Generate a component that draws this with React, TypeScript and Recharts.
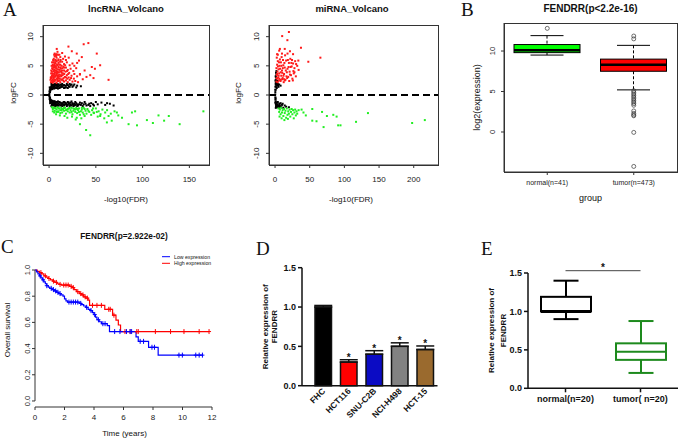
import React from "react";
import {
  ScatterChart,
  Scatter,
  XAxis,
  YAxis,
  ReferenceLine,
  ComposedChart,
  Bar,
  Line,
  BarChart,
  Cell,
  ErrorBar,
  LabelList,
} from "recharts";

const FONT = '"Liberation Sans", Arial, sans-serif';
const SERIF = '"Liberation Serif", "Times New Roman", serif';

// ---- A: volcano plots, [ -log10(FDR), logFC ] ----
const lncRed: [number, number][] = [
  [2, 2.2], [3, 2.5], [4, 2.1], [5, 2.8], [6, 2.3], [7, 2.6], [8, 2.1], [9, 2.9], [10, 2.4], [12, 2.2], [14, 2.7], [16, 2.3], [18, 2.5], [20, 2.2], [22, 2.6], [25, 2.3], [28, 2.4], [31, 2.2],
  [2.5, 3.1], [3.5, 3.4], [4.5, 3.0], [5.5, 3.6], [6.5, 3.2], [7.5, 3.8], [8.5, 3.3], [9.5, 3.1], [11, 3.5], [13, 3.2], [15, 3.7], [17, 3.1], [19, 3.4], [21, 3.0], [24, 3.3], [27, 3.6], [30, 3.2], [33, 3.5],
  [3, 4.0], [4, 4.4], [5, 4.1], [6, 4.7], [7, 4.2], [8, 4.5], [9, 4.0], [10, 4.8], [11, 4.3], [13, 4.1], [14, 4.6], [16, 4.2], [18, 4.7], [20, 4.3], [23, 4.5], [26, 4.1], [29, 4.6],
  [4, 5.2], [5, 5.6], [6, 5.0], [7, 5.4], [8, 5.8], [9, 5.1], [10, 5.5], [12, 5.2], [14, 5.7], [16, 5.3], [19, 5.6], [22, 5.1], [25, 5.4],
  [5, 6.2], [6, 6.6], [7, 6.0], [8, 6.4], [10, 6.1], [12, 6.5], [15, 6.2], [18, 6.0], [21, 6.4],
  [6, 7.1], [8, 7.0], [9, 7.4], [11, 6.9], [14, 7.2],
  [1.5, 2.6], [2.2, 3.7], [2.8, 2.9], [3.3, 4.6], [4.2, 3.3], [5.2, 2.4], [6.2, 3.9], [7.2, 4.9], [8.2, 3.6], [9.2, 2.7], [10.5, 3.9], [11.5, 2.8], [12.5, 4.5], [13.5, 3.8], [15.5, 2.9], [17.5, 4.0], [19.5, 2.8], [21.5, 3.8], [23.5, 2.9], [26.5, 2.8], [12.3, 6.0], [17, 6.6], [3.8, 5.0], [4.8, 4.7], [5.8, 5.3], [6.8, 5.9], [9.8, 5.9], [11.8, 5.7],
  [1.8, 3.0], [2.3, 4.2], [2.7, 5.0], [3.2, 5.6], [3.6, 2.3], [4.1, 3.7], [4.6, 5.9], [5.1, 3.3], [5.6, 4.3], [6.1, 2.6], [6.6, 5.6], [7.1, 3.4], [7.6, 4.6], [8.1, 2.8], [8.6, 5.2], [9.1, 3.8], [9.6, 4.4], [10.2, 2.9], [10.8, 5.2], [11.3, 3.2], [11.8, 4.7], [12.8, 3.4], [13.2, 5.0], [14.5, 3.4], [15.2, 4.9], [16.2, 3.6], [17.2, 5.1], [18.3, 3.0], [19.2, 4.1], [20.5, 3.6],
  [2.0, 2.9], [3.0, 3.3], [4.0, 2.6], [5.0, 5.0], [6.0, 3.1], [7.0, 4.9], [8.0, 4.1], [9.0, 2.4], [10.0, 3.4], [11.0, 2.5], [12.0, 4.0], [13.0, 2.6], [14.0, 4.2], [15.0, 2.5], [16.0, 4.7], [6.5, 6.9], [7.5, 6.7], [9.5, 6.9], [4.5, 6.0], [5.5, 6.9],
  [42, 8.9], [37, 8.7], [20.7, 8.3], [8.2, 7.9], [51, 7.1], [54.6, 5.1], [45.7, 4.8], [49, 4.5], [47.5, 2.9], [63.6, 2.6], [33, 3.6], [29.6, 7.1], [24.3, 7.5], [35, 6.5], [32, 5.9], [38, 4.2], [40, 3.1], [27, 5.0], [30, 5.5], [36, 2.7], [44, 3.4],
];
const lncBlack: [number, number][] = [
  [0.3, 0.2], [0.5, -0.3], [0.4, 0.6], [0.6, -0.7], [0.8, 0.9], [1.0, -1.0], [0.2, -0.1], [1.2, 1.1], [1.5, -1.2], [0.7, 1.3], [1.1, -1.4],
  [2, 1.3], [3, 1.6], [4, 1.2], [5, 1.8], [6, 1.4], [7, 1.7], [8, 1.3], [9, 1.9], [10, 1.5], [11, 1.2], [12, 1.8], [13, 1.4], [15, 1.6], [17, 1.3], [19, 1.9], [21, 1.5], [23, 1.7], [25, 1.4], [27, 1.8], [30, 1.6], [34, 1.5],
  [2.5, 1.9], [3.5, 1.0], [4.5, 1.5], [5.5, 1.1], [6.5, 1.9], [7.5, 1.2], [8.5, 1.6], [9.5, 1.1], [14, 1.9], [16, 1.2], [18, 1.6], [20, 1.2], [22, 1.9], [26, 1.6], [29, 1.3],
  [1, 0.5], [1.5, 0.8], [2, 1.0], [2.5, 1.5], [3, 1.2], [3.5, 1.7], [4, 1.6], [5, 1.2], [6, 1.7], [7, 1.3], [8, 1.8], [9, 1.4], [10, 1.8], [11, 1.6], [12, 1.3], [13, 1.7], [14, 1.4], [16, 1.7], [18, 1.3], [20, 1.7], [22, 1.4], [24, 1.8],
  [2, -1.3], [3, -1.6], [4, -1.2], [5, -1.8], [6, -1.4], [7, -1.7], [8, -1.3], [9, -1.9], [10, -1.5], [11, -1.2], [12, -1.8], [13, -1.4], [15, -1.6], [17, -1.3], [19, -1.9], [21, -1.5], [23, -1.7], [25, -1.4], [27, -1.8], [30, -1.6], [33, -1.3], [36, -1.9], [39, -1.5], [42, -1.7], [45, -1.4], [48, -1.8], [52, -1.6], [56, -1.3], [60, -1.7], [65, -1.5], [69, -1.8],
  [2.5, -1.9], [3.5, -1.0], [4.5, -1.5], [5.5, -1.1], [6.5, -1.9], [7.5, -1.2], [8.5, -1.6], [9.5, -1.1], [14, -1.9], [16, -1.2], [18, -1.6], [20, -1.2], [22, -1.9], [24, -1.1], [26, -1.6], [28, -1.2], [31, -1.8], [35, -1.4], [38, -1.2], [44, -1.9], [50, -1.2], [62, -1.4],
  [1, -0.5], [1.5, -0.8], [2, -0.9], [2.5, -1.1], [3, -1.0], [3.5, -1.4], [4, -1.7], [4.5, -1.1], [5, -1.3], [5.5, -1.6], [6, -1.1], [7, -1.4], [8, -1.8], [9, -1.3], [10, -1.8], [11, -1.6], [12, -1.3], [13, -1.7], [14, -1.5], [15, -1.3], [16, -1.8], [17, -1.6], [18, -1.4], [19, -1.6], [20, -1.7], [21, -1.3], [22, -1.5], [23, -1.3], [24, -1.8], [25, -1.6], [26, -1.9], [27, -1.5], [28, -1.7], [29, -1.4], [30, -1.9], [32, -1.6], [34, -1.7], [37, -1.6], [40, -1.8], [43, -1.5], [47, -1.6],
];
const lncGreen: [number, number][] = [
  [3, -2.1], [4, -2.4], [5, -2.2], [6, -2.7], [7, -2.3], [8, -2.5], [9, -2.1], [10, -2.8], [11, -2.3], [12, -2.6], [13, -2.2], [14, -3.0], [15, -2.4], [16, -2.7], [17, -2.2], [18, -3.2], [19, -2.5], [20, -2.8], [21, -2.3], [22, -3.0], [23, -2.6], [24, -2.2], [25, -3.3], [26, -2.7], [27, -2.4], [28, -2.9], [29, -2.2], [30, -3.1], [31, -2.6], [32, -2.3], [33, -3.4], [34, -2.8], [35, -2.5], [36, -3.0], [37, -2.2], [38, -3.6], [39, -2.7], [40, -3.2], [41, -2.4], [43, -2.9], [45, -3.4], [46, -2.6], [48, -3.1], [50, -2.3], [52, -3.7], [53, -2.8], [55, -3.3], [57, -2.5], [59, -4.0], [60, -3.0], [62, -2.6], [66, -3.2], [70, -2.8], [74, -3.5],
  [5.5, -3.0], [7.5, -3.3], [9.5, -2.9], [11.5, -3.5], [13.5, -2.6], [16.5, -3.6], [19.5, -3.9], [24.5, -3.7], [28.5, -4.2], [34.5, -4.0],
  [4, -2.8], [6, -2.2], [8, -2.9], [10, -2.3], [12, -3.1], [14, -2.4], [16, -2.2], [18, -2.6], [20, -2.4], [22, -2.2], [24, -2.9], [26, -2.3], [28, -2.5], [30, -2.4], [32, -2.9], [35, -2.2], [38, -2.4], [42, -2.7], [47, -2.3], [51, -2.9],
  [165, -2.8], [139.6, -5.0], [128, -3.6], [123, -4.4], [111, -4.8], [104.6, -4.3], [94, -5.2], [88.6, -3.0], [85, -5.0], [78, -3.9], [72.5, -3.0], [63.6, -3.6], [61.8, -4.7], [54.6, -3.6], [39.6, -6.0], [44, -6.9], [33, -5.0], [47.5, -3.0], [29.6, -3.9], [37, -3.3], [117, -3.5], [92, -2.8], [67, -4.4],
];

const miRed: [number, number][] = [
  [2, 2.3], [3, 2.8], [2.5, 3.4], [3.5, 4.0], [2, 4.6], [3, 5.2], [4, 5.8], [2.5, 6.4], [4.5, 3.0], [5, 4.4], [5.5, 2.5], [6, 3.7], [6.5, 5.0], [7, 6.1], [4, 6.9], [3, 7.0],
  [8, 2.4], [9, 3.3], [10, 4.2], [11, 2.9], [12, 5.1], [13, 3.6], [14, 4.7], [15, 2.6], [16, 5.9], [17, 3.9], [18, 4.5], [19, 3.1], [20, 5.5], [21, 4.0], [22, 6.2], [23, 3.4], [24, 4.9], [25, 2.8], [26, 5.4], [27, 3.7], [28, 4.6], [30, 3.2], [32, 5.0], [34, 4.3],
  [8.5, 5.6], [9.5, 6.5], [10.5, 3.8], [11.5, 6.0], [12.5, 2.2], [13.5, 5.5], [14.5, 6.8], [16.5, 3.2], [18.5, 6.0], [20.5, 2.4], [22.5, 4.8], [24.5, 6.0], [26.5, 4.1], [29, 5.8],
  [2.2, 2.9], [3.2, 3.6], [4.2, 4.9], [5.2, 3.3], [6.2, 2.8], [7.2, 4.5], [8.2, 3.9], [9.2, 5.0], [10.2, 2.7], [11.2, 4.6], [12.2, 3.3], [13.2, 2.7], [15.5, 4.2], [17.5, 2.9], [19.5, 4.8], [21.5, 3.5], [23.5, 5.5], [3.8, 2.2], [5.8, 5.6], [7.8, 2.6],
  [20, 10.8], [10.3, 10.1], [17.8, 9.4], [37.4, 8.1], [65.4, 6.4], [48, 5.7], [21.5, 7.5], [14, 7.9], [7, 7.9], [25.7, 2.5], [14, 2.5], [28, 3.9], [30.4, 5.3], [33.6, 5.9], [10, 7.1], [18, 7.1], [26, 7.0], [6, 7.6],
];
const miBlack: [number, number][] = [
  [0.3, 0.1], [0.5, -0.4], [0.4, 0.5], [0.6, -0.8], [0.8, 0.9], [1, -1.1], [0.7, 1.4], [1.2, -1.4], [1.5, 1.8], [1.1, 2.2], [1.6, 2.6], [1.3, 3.0], [1.8, 3.4], [1.4, 3.8], [2.0, 4.1], [0.9, 1.9], [1.7, -1.7], [2, -1.9], [1.4, -2.0],
  [2.5, 1.2], [3, 1.6], [4, 1.9], [5, 1.4], [6, 1.8], [8, 1.6], [2.8, 2.0], [3.5, 2.4], [4.5, 1.7],
  [2.5, -1.3], [3, -1.6], [4, -1.2], [5, -1.8], [6, -1.5], [7, -1.9], [8, -1.4], [9, -2.1], [10, -1.7], [12, -2.2], [14, -1.8], [16, -2.0], [3.5, -2.1], [5.5, -2.2], [11, -1.5], [20, -2.1],
  [0.5, 0.9], [0.8, -0.6], [1, 1.5], [1.2, -1.6], [0.6, 2.5], [0.9, 3.2], [1.1, -2.2], [2.2, -1.6], [3.2, -1.9], [4.5, -2.0], [6.5, -1.7], [0.4, -1.3],
];
const miGreen: [number, number][] = [
  [5, -2.3], [6, -2.9], [7, -2.5], [8, -3.3], [9, -2.2], [10, -3.0], [11, -2.6], [12, -3.6], [13, -2.4], [14, -3.1], [15, -2.7], [16, -3.9], [17, -2.3], [18, -3.4], [19, -2.8], [20, -3.2], [21, -2.5], [22, -3.7], [23, -2.9], [24, -2.4], [25, -3.3], [26, -2.6], [27, -4.0], [28, -3.0], [29, -2.5], [30, -3.5], [31, -2.8], [32, -3.2], [34, -2.6], [6.5, -3.7], [9.5, -4.0], [13.5, -4.3], [18.5, -4.1],
  [53.7, -2.4], [67.8, -2.9], [74.8, -3.6], [84, -3.4], [88.8, -3.7], [91, -5.2], [94.4, -5.2], [70, -5.5], [53.7, -4.4], [59.8, -4.5], [116.8, -4.6], [134, -3.1], [197.7, -4.8], [216, -4.3], [41, -3.0], [44.4, -3.5], [38.3, -2.5],
];

// ---- B: TCGA boxplot ----
const bGroups = ["normal(n=41)", "tumor(n=473)"];
const bMin = [9.5, 5.2];
const bQ1 = [9.8, 7.5];
const bMed = [10.1, 8.3];
const bQ3 = [10.8, 9.0];
const bMax = [11.9, 10.7];
const bFill = ["#00ff00", "#ff0000"];
const bNormalOut = [12.8];
const bTumorOut = [11.85, 11.5, 5.1, 4.9, 4.7, 4.5, 4.3, 4.1, 3.9, 3.7, 3.5, 3.3, 2.6, 2.3, 2.1, 2.0, -0.05, -4.25];

// ---- C: Kaplan-Meier ----
const lowT = [0, 0.1, 0.2, 0.3, 0.4, 0.5, 0.6, 0.7, 0.8, 0.9, 1.0, 1.15, 1.3, 1.45, 1.6, 1.75, 1.9, 2.0, 2.1, 2.2, 3.0, 3.15, 3.3, 3.45, 3.6, 3.75, 3.9, 4.0, 4.1, 4.2, 4.35, 4.5, 4.9, 5.05, 6.85, 7.0, 7.7, 8.35, 11.35];
const lowS = [1.0, 0.985, 0.97, 0.955, 0.94, 0.925, 0.91, 0.895, 0.88, 0.87, 0.86, 0.85, 0.84, 0.83, 0.82, 0.81, 0.8, 0.78, 0.765, 0.755, 0.745, 0.735, 0.725, 0.715, 0.7, 0.69, 0.675, 0.66, 0.64, 0.62, 0.605, 0.59, 0.575, 0.53, 0.49, 0.455, 0.41, 0.35, 0.35];
const highT = [0, 0.15, 0.3, 0.45, 0.6, 0.75, 0.9, 1.05, 1.2, 1.35, 1.5, 1.65, 1.8, 2.35, 2.5, 2.65, 2.8, 3.0, 3.15, 3.3, 3.45, 3.6, 3.7, 4.73, 5.26, 5.49, 5.65, 5.8, 11.8];
const highS = [1, 0.99, 0.98, 0.97, 0.955, 0.945, 0.935, 0.925, 0.915, 0.905, 0.895, 0.89, 0.885, 0.875, 0.865, 0.85, 0.835, 0.82, 0.81, 0.795, 0.785, 0.77, 0.73, 0.7, 0.655, 0.617, 0.58, 0.53, 0.53];
const lowCens = [0.35, 0.55, 0.8, 1.1, 1.25, 1.4, 1.55, 1.7, 2.3, 2.45, 2.6, 2.75, 2.9, 3.1, 3.5, 3.8, 4.05, 4.3, 4.6, 4.75, 5.4, 5.76, 6.2, 6.45, 6.55, 7.13, 7.36, 7.93, 8.1, 9.76, 9.99, 10.9, 11.13, 11.35];
const highCens = [0.4, 0.7, 0.95, 1.25, 1.45, 1.7, 1.95, 2.1, 2.25, 2.45, 2.6, 2.9, 3.1, 3.25, 3.4, 3.55, 3.9, 4.2, 4.5, 5.0, 5.1, 5.35, 6.1, 6.45, 6.9, 7.0, 8.16, 9.19, 10.1, 11.13, 11.8];

// ---- D: qPCR cell lines ----
const dCells = ["FHC", "HCT116", "SNU-C2B", "NCI-H498", "HCT-15"];
const dMean = [1.0, 0.3, 0.4, 0.5, 0.46];
const dErr = [0.02, 0.03, 0.045, 0.045, 0.045];
const dStar = ["", "*", "*", "*", "*"];
const dColor = ["#000000", "#ff0000", "#0b0bc4", "#828282", "#9a6a2e"];

// ---- E: tissue boxplot ----
const eGroups = ["normal(n=20)", "tumor( n=20)"];
const eMin = [0.9, 0.2];
const eQ1 = [1.0, 0.37];
const eMed = [1.0, 0.475];
const eQ3 = [1.19, 0.585];
const eMax = [1.4, 0.875];
const eColor = ["#000000", "#1d8a1d"];

const pts = (a: [number, number][]) => a.map(([x, y]) => ({ x, y }));
const steps = (t: number[], s: number[]) => t.map((v, i) => ({ t: v, s: s[i] }));
const survAt = (t: number[], s: number[], x: number) => {
  let k = 0;
  t.forEach((v, i) => {
    if (v <= x) k = i;
  });
  return s[k];
};

const RotTick = (props: any) => {
  const { x, y, payload, dx = 5, fs = 8, fmt } = props;
  const tx = x - dx;
  return (
    <text x={tx} y={y} transform={`rotate(-90 ${tx} ${y})`} textAnchor="middle" fontSize={fs} fontFamily={FONT} fill="#222">
      {fmt ? fmt(payload.value) : payload.value}
    </text>
  );
};

const dotShape = (c: string) => (p: any) => <rect x={p.cx - 1} y={p.cy - 1} width={2} height={2} fill={c} />;

const FRAME = "#333";

// plot-box border drawn behind a chart, from the same margins the chart uses
const Frame = ({ left, top, width, height }: any) => (
  <div style={{ position: "absolute", left, top, width, height, border: `1px solid ${FRAME}`, boxSizing: "border-box" }} />
);

function Volcano({ left, width, yw, mr, xDomain, xTicks, red, black, green }: any) {
  const axisTick = { fontSize: 8, fill: "#222", fontFamily: FONT };
  const H = 190;
  const top = 25;
  const xh = 25;
  return (
    <div style={{ position: "absolute", left, top: 0, width, height: H }}>
      <Frame left={yw - 0.5} top={top - 0.5} width={width - mr - yw + 1} height={H - xh - top + 1} />
      <div style={{ position: "absolute", left: 0, top: 0 }}>
        <ScatterChart width={width} height={H} margin={{ top, right: mr, bottom: 0, left: 0 }}>
          <XAxis type="number" dataKey="x" domain={xDomain} ticks={xTicks} tickSize={3} tickMargin={8} tick={axisTick} stroke={FRAME} height={xh} />
          <YAxis type="number" dataKey="y" domain={[-12, 12]} ticks={[-10, -5, 0, 5, 10]} tickSize={3} width={yw} stroke={FRAME} tick={<RotTick dx={5} fs={8} />} />
          <Scatter data={pts(black)} shape={dotShape("#000")} isAnimationActive={false} />
          <Scatter data={pts(red)} shape={dotShape("#ff1a1a")} isAnimationActive={false} />
          <Scatter data={pts(green)} shape={dotShape("#22ee22")} isAnimationActive={false} />
          <ReferenceLine y={0} stroke="#000" strokeWidth={2} strokeDasharray="7 4" />
        </ScatterChart>
      </div>
    </div>
  );
}

const RBox = (p: any) => {
  const { x, y, width, height, payload } = p;
  const top = Math.min(y, y + height);
  const h = Math.abs(height);
  const { min, max, q1, med, q3, fill } = payload;
  const py = (v: number) => top + ((max - v) / (max - min)) * h;
  const cx = x + width / 2;
  const sw = width / 4;
  return (
    <g>
      <line x1={cx} x2={cx} y1={py(max)} y2={py(q3)} stroke="#000" strokeDasharray="3 2" />
      <line x1={cx} x2={cx} y1={py(q1)} y2={py(min)} stroke="#000" strokeDasharray="3 2" />
      <line x1={cx - sw} x2={cx + sw} y1={py(max)} y2={py(max)} stroke="#000" />
      <line x1={cx - sw} x2={cx + sw} y1={py(min)} y2={py(min)} stroke="#000" />
      <rect x={x} y={py(q3)} width={width} height={py(q1) - py(q3)} fill={fill} stroke="#000" />
      <line x1={x} x2={x + width} y1={py(med)} y2={py(med)} stroke="#000" strokeWidth={2.5} />
    </g>
  );
};

const GBox = (p: any) => {
  const { x, y, width, height, payload } = p;
  const top = Math.min(y, y + height);
  const h = Math.abs(height);
  const { min, max, q1, med, q3, color } = payload;
  const py = (v: number) => top + ((max - v) / (max - min)) * h;
  const cx = x + width / 2;
  const sw = width / 4;
  return (
    <g stroke={color} strokeWidth={2} fill="none">
      <line x1={cx} x2={cx} y1={py(max)} y2={py(q3)} />
      <line x1={cx} x2={cx} y1={py(q1)} y2={py(min)} />
      <line x1={cx - sw} x2={cx + sw} y1={py(max)} y2={py(max)} />
      <line x1={cx - sw} x2={cx + sw} y1={py(min)} y2={py(min)} />
      <rect x={x} y={py(q3)} width={width} height={py(q1) - py(q3)} fill="#fff" />
      <line x1={x} x2={x + width} y1={py(med)} y2={py(med)} strokeWidth={med === q1 ? 3 : 2} />
    </g>
  );
};

function PanelB() {
  const rows = bGroups.map((g, i) => ({ group: g, range: [bMin[i], bMax[i]], min: bMin[i], q1: bQ1[i], med: bMed[i], q3: bQ3[i], max: bMax[i], fill: bFill[i] }));
  const out = [...bNormalOut.map((v) => ({ group: bGroups[0], v })), ...bTumorOut.map((v) => ({ group: bGroups[1], v }))];
  const W = 225;
  const H = 190;
  const top = 23;
  const mr = 3;
  const yw = 49;
  const xh = 18;
  return (
    <div style={{ position: "absolute", left: 455, top: 0, width: W, height: H }}>
      <Frame left={yw - 0.5} top={top - 0.5} width={W - mr - yw + 1} height={H - xh - top + 1} />
      <div style={{ position: "absolute", left: 0, top: 0 }}>
        <ComposedChart width={W} height={H} data={rows} margin={{ top, right: mr, bottom: 0, left: 0 }}>
          <XAxis dataKey="group" type="category" allowDuplicatedCategory={false} tickSize={3} tickMargin={5} tick={{ fontSize: 7, fill: "#222", fontFamily: FONT }} stroke={FRAME} height={xh} />
          <YAxis type="number" domain={[-4.94, 13.46]} ticks={[0, 5, 10]} tickSize={3} width={yw} stroke={FRAME} tick={<RotTick dx={4} fs={7.5} />} />
          <Bar dataKey="range" barSize={66} shape={RBox} isAnimationActive={false} />
          <Scatter data={out} dataKey="v" isAnimationActive={false} shape={(p: any) => <circle cx={p.cx} cy={p.cy} r={2} fill="none" stroke="#333" strokeWidth={0.7} />} />
        </ComposedChart>
      </div>
    </div>
  );
}

const Cross = (c: string) => (p: any) => (
  <g stroke={c} strokeWidth={1}>
    <line x1={p.cx - 2} x2={p.cx + 2} y1={p.cy} y2={p.cy} />
    <line x1={p.cx} x2={p.cx} y1={p.cy - 2.5} y2={p.cy + 2.5} />
  </g>
);

function PanelC() {
  const low = steps(lowT, lowS);
  const high = steps(highT, highS);
  const lowC = lowCens.map((t) => ({ t, s: survAt(lowT, lowS, t) }));
  const highC = highCens.map((t) => ({ t, s: survAt(highT, highS, t) }));
  return (
    <div style={{ position: "absolute", left: 0, top: 215 }}>
      <ComposedChart width={230} height={211} margin={{ top: 55, right: 18, bottom: 0, left: 0 }}>
        <XAxis type="number" dataKey="t" domain={[0, 12]} ticks={[0, 2, 4, 6, 8, 10, 12]} tickSize={3} tickMargin={4} tick={{ fontSize: 8, fill: "#222", fontFamily: FONT }} stroke="#333" height={19} />
        <YAxis type="number" domain={[-0.046, 1]} ticks={[0, 0.2, 0.4, 0.6, 0.8, 1]} tickSize={3} width={35} axisLine={false} stroke="#333" tick={<RotTick dx={0} fs={7.5} fmt={(v: number) => v.toFixed(1)} />} />
        <ReferenceLine segment={[{ x: 0, y: 0 }, { x: 0, y: 1 }]} stroke="#333" />
        <Line data={high} dataKey="s" type="stepAfter" stroke="#ff0000" strokeWidth={1.2} dot={false} isAnimationActive={false} />
        <Line data={low} dataKey="s" type="stepAfter" stroke="#0000ff" strokeWidth={1.2} dot={false} isAnimationActive={false} />
        <Scatter data={highC} dataKey="s" shape={Cross("#ff0000")} isAnimationActive={false} />
        <Scatter data={lowC} dataKey="s" shape={Cross("#0000ff")} isAnimationActive={false} />
      </ComposedChart>
    </div>
  );
}

const DTick = (p: any) => {
  const { x, y, payload } = p;
  const tx = x + 3;
  const ty = y + 6;
  return (
    <text x={tx} y={ty} transform={`rotate(-45 ${tx} ${ty})`} textAnchor="end" fontSize={8.5} fontWeight="bold" fontFamily={FONT} fill="#111">
      {payload.value}
    </text>
  );
};

function PanelD() {
  const rows = dCells.map((c, i) => ({ cell: c, mean: dMean[i], err: [0, dErr[i]], star: dStar[i] }));
  const Star = (p: any) => {
    const { x, y, width, height, value, index } = p;
    if (!value) return null;
    const errTop = y - (dErr[index] * height) / dMean[index];
    return (
      <text x={x + width / 2} y={errTop + 1.5} textAnchor="middle" fontSize={10} fontWeight="bold" fontFamily={FONT} fill="#111">
        {value}
      </text>
    );
  };
  return (
    <div style={{ position: "absolute", left: 225, top: 215 }}>
      <BarChart width={215} height={224} data={rows} margin={{ top: 52.7, right: 2.5, bottom: 0, left: 0 }}>
        <XAxis dataKey="cell" padding={{ left: 8, right: 0 }} tickLine={false} tickSize={0} tickMargin={0} tick={<DTick />} stroke="#111" strokeWidth={1.5} height={53.3} interval={0} />
        <YAxis type="number" domain={[0, 1.5]} ticks={[0, 0.5, 1, 1.5]} tickFormatter={(v: number) => v.toFixed(1)} tickSize={4} tickMargin={2} width={77} stroke="#111" strokeWidth={1.5} tick={{ fontSize: 9, fontWeight: "bold", fill: "#111", fontFamily: FONT }} />
        <Bar dataKey="mean" barSize={16.5} stroke="#111" strokeWidth={1.5} isAnimationActive={false}>
          {rows.map((r, i) => (
            <Cell key={r.cell} fill={dColor[i]} />
          ))}
          <ErrorBar dataKey="err" width={9} stroke="#111" strokeWidth={1.5} direction="y" />
          <LabelList dataKey="star" content={Star} />
        </Bar>
      </BarChart>
    </div>
  );
}

function PanelE() {
  const rows = eGroups.map((g, i) => ({ group: g, range: [eMin[i], eMax[i]], min: eMin[i], q1: eQ1[i], med: eMed[i], q3: eQ3[i], max: eMax[i], color: eColor[i] }));
  return (
    <div style={{ position: "absolute", left: 455, top: 215 }}>
      <ComposedChart width={225} height={224} data={rows} margin={{ top: 58, right: 2, bottom: 0, left: 0 }}>
        <XAxis dataKey="group" tickSize={4} tickMargin={3} tick={{ fontSize: 9, fontWeight: "bold", fill: "#111", fontFamily: FONT }} stroke="#111" strokeWidth={1.5} height={50.7} />
        <YAxis type="number" domain={[0, 1.5]} ticks={[0, 0.5, 1, 1.5]} tickFormatter={(v: number) => v.toFixed(1)} tickSize={4} tickMargin={2} width={73} stroke="#111" strokeWidth={1.5} tick={{ fontSize: 9, fontWeight: "bold", fill: "#111", fontFamily: FONT }} />
        <Bar dataKey="range" barSize={50} shape={GBox} isAnimationActive={false} />
        <ReferenceLine segment={[{ x: eGroups[0], y: 1.53 }, { x: eGroups[1], y: 1.53 }]} stroke="#444" strokeWidth={1} ifOverflow="visible" />
      </ComposedChart>
    </div>
  );
}

function Overlay() {
  const t = (x: number, y: number, s: string, fs: number, extra: any = {}) => (
    <text x={x} y={y} fontSize={fs} fontFamily={FONT} fill="#111" textAnchor="middle" {...extra}>
      {s}
    </text>
  );
  const rt = (x: number, y: number, s: string, fs: number, extra: any = {}) => (
    <text x={x} y={y} transform={`rotate(-90 ${x} ${y})`} fontSize={fs} fontFamily={FONT} fill="#111" textAnchor="middle" {...extra}>
      {s}
    </text>
  );
  const letter = (x: number, y: number, s: string) => (
    <text x={x} y={y} fontSize={19} fontFamily={SERIF} fill="#111">
      {s}
    </text>
  );
  return (
    <svg width={680} height={439} style={{ position: "absolute", left: 0, top: 0, pointerEvents: "none" }}>
      {letter(3, 16, "A")}
      {t(126, 11.5, "lncRNA_Volcano", 9.5, { fontWeight: "bold" })}
      {t(352, 11.5, "miRNA_Volcano", 9.5, { fontWeight: "bold" })}
      {t(126, 202, "-log10(FDR)", 8)}
      {t(351, 202, "-log10(FDR)", 8)}
      {rt(16, 93, "logFC", 8)}
      {rt(241, 93, "logFC", 8)}

      {letter(461, 16, "B")}
      {t(590.5, 11.7, "FENDRR(p<2.2e-16)", 10, { fontWeight: "bold" })}
      {rt(480, 97.5, "log2(expression)", 9)}
      {t(590.5, 201, "group", 9)}

      {letter(1, 253, "C")}
      {t(124, 239, "FENDRR(p=2.922e-02)", 8.3, { fontWeight: "bold" })}
      {rt(10, 330, "Overall survival", 8)}
      {t(124.5, 436, "Time (years)", 8)}
      <line x1={162} x2={170} y1={256.7} y2={256.7} stroke="#0000ff" strokeWidth={1} />
      <line x1={162} x2={170} y1={263.3} y2={263.3} stroke="#ff0000" strokeWidth={1} />
      {t(174, 258.5, "Low expression", 5.2, { textAnchor: "start" })}
      {t(174, 265.1, "High expression", 5.2, { textAnchor: "start" })}

      {letter(256, 255, "D")}
      {rt(268.5, 326.7, "Relative expression of", 8, { fontWeight: "bold" })}
      {rt(277, 326.7, "FENDRR", 8, { fontWeight: "bold" })}

      {letter(481, 255, "E")}
      {rt(493.5, 330.5, "Relative expression of", 8, { fontWeight: "bold" })}
      {rt(506, 330.5, "FENDRR", 8, { fontWeight: "bold" })}
      {t(603, 271, "*", 10, { fontWeight: "bold" })}
    </svg>
  );
}

export default function App() {
  return (
    <div style={{ position: "absolute", left: 0, top: 0, width: 680, height: 439, background: "#fff", overflow: "hidden" }}>
      <Volcano left={0} width={215} yw={43} mr={6} xDomain={[-6.5, 171]} xTicks={[0, 50, 100, 150]} red={lncRed} black={lncBlack} green={lncGreen} />
      <Volcano left={225} width={220} yw={44} mr={7} xDomain={[-8.7, 235]} xTicks={[0, 50, 100, 150, 200]} red={miRed} black={miBlack} green={miGreen} />
      <PanelB />
      <PanelC />
      <PanelD />
      <PanelE />
      <Overlay />
    </div>
  );
}
